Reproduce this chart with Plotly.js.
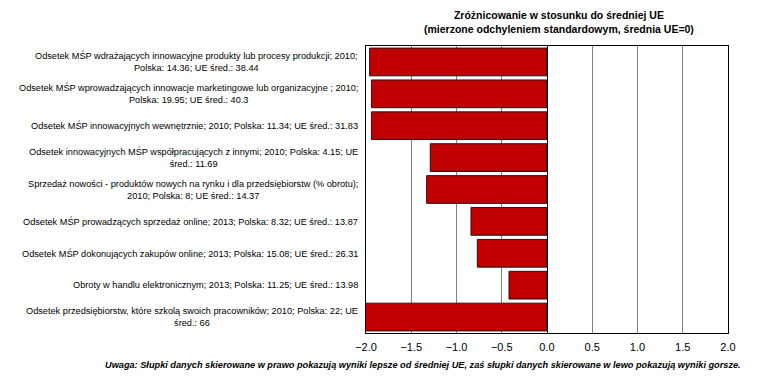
<!DOCTYPE html>
<html>
<head>
<meta charset="utf-8">
<script src="https://cdn.plot.ly/plotly-3.0.1.min.js"></script>
<style>html,body{margin:0;padding:0;background:#fff;}#chart{width:757px;height:381px;}</style>
</head>
<body>
<div id="chart"></div>
<script>
const labels = [
  "Odsetek MŚP wdrażających innowacyjne produkty lub procesy produkcji; 2010;<br>Polska: 14.36; UE śred.: 38.44",
  "Odsetek MŚP wprowadzających innowacje marketingowe lub organizacyjne ; 2010;<br>Polska: 19.95; UE śred.: 40.3",
  "Odsetek MŚP innowacyjnych wewnętrznie; 2010; Polska: 11.34; UE śred.: 31.83",
  "Odsetek innowacyjnych MŚP współpracujących z innymi; 2010; Polska: 4.15; UE<br>śred.: 11.69",
  "Sprzedaż nowości - produktów nowych na rynku i dla przedsiębiorstw (% obrotu);<br>2010; Polska: 8; UE śred.: 14.37",
  "Odsetek MŚP prowadzących sprzedaż online; 2013; Polska: 8.32; UE śred.: 13.87",
  "Odsetek MŚP dokonujących zakupów online; 2013; Polska: 15.08; UE śred.: 26.31",
  "Obroty w handlu elektronicznym; 2013; Polska: 11.25; UE śred.: 13.98",
  "Odsetek przedsiębiorstw, które szkolą swoich pracowników; 2010; Polska: 22; UE<br>śred.: 66"
];
const values = [-1.96, -1.94, -1.94, -1.29, -1.33, -0.84, -0.77, -0.42, -2.3];
const xTicks = [-2.0, -1.5, -1.0, -0.5, 0.0, 0.5, 1.0, 1.5, 2.0];
const titleText = "Zróżnicowanie w stosunku do średniej UE<br>(mierzone odchyleniem standardowym, średnia UE=0)";
const noteText = "Uwaga: Słupki danych skierowane w prawo pokazują wyniki lepsze od średniej UE, zaś słupki danych skierowane w lewo pokazują wyniki gorsze.";

const idx = labels.map((_, i) => i);
const FONT = "Liberation Sans, Arial, sans-serif";
const PW = 362, PH = 287;

const trace = {
  type: 'bar', orientation: 'h',
  x: values, y: idx,
  marker: {color: '#C00000', line: {color: '#1a1a1a', width: 1}},
  width: 0.87,
  hoverinfo: 'skip'
};

const annotations = labels.map((t, i) => ({
  xref: 'paper', yref: 'y', x: -6/PW, y: i,
  xanchor: 'right', yanchor: 'middle', align: 'center',
  text: t, showarrow: false,
  font: {family: FONT, size: 9.2, color: '#000'}
}));
annotations.push({
  xref: 'paper', yref: 'paper', x: (559 - 366)/PW, y: 1 + (46 - 22)/PH,
  xanchor: 'center', yanchor: 'middle', align: 'center',
  text: '<b>' + titleText + '</b>', showarrow: false,
  font: {family: FONT, size: 10.5, color: '#000'}
});
annotations.push({
  xref: 'paper', yref: 'paper', x: (743 - 366)/PW, y: (333 - 365)/PH,
  xanchor: 'right', yanchor: 'middle',
  text: '<b><i>' + noteText + '</i></b>', showarrow: false,
  font: {family: FONT, size: 9.2, color: '#000'}
});

const layout = {
  width: 757, height: 381,
  margin: {l: 366, r: 29, t: 46, b: 48, pad: 0},
  paper_bgcolor: '#fff', plot_bgcolor: '#fff',
  showlegend: false,
  xaxis: {
    range: [-2, 2], tickvals: xTicks, tickformat: '.1f',
    showgrid: true, gridcolor: '#808080', gridwidth: 1,
    zeroline: true, zerolinecolor: '#000', zerolinewidth: 1,
    showline: true, linecolor: '#000', linewidth: 1, mirror: true,
    ticks: 'outside', ticklen: 4, tickcolor: 'rgba(0,0,0,0)',
    tickfont: {family: FONT, size: 11, color: '#000'},
    fixedrange: true
  },
  yaxis: {
    range: [8.5, -0.5], showticklabels: false, showgrid: false,
    zeroline: false, showline: true, linecolor: '#000', linewidth: 1, mirror: true,
    ticks: '', fixedrange: true
  },
  annotations: annotations
};

Plotly.newPlot('chart', [trace], layout, {displayModeBar: false, staticPlot: true});
</script>
</body>
</html>
